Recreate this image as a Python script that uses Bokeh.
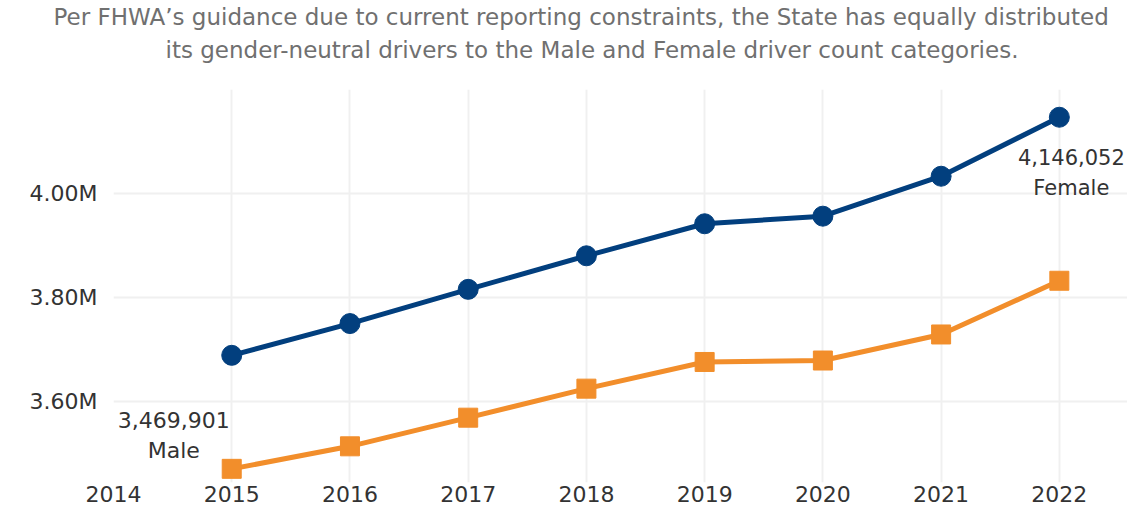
from bokeh.plotting import figure
from bokeh.models import Range1d, FixedTicker, Title
from bokeh.core.properties import value
from bokeh.embed import file_html
from bokeh.resources import INLINE

# ---- data ----
years = [2015, 2016, 2017, 2018, 2019, 2020, 2021, 2022]
female = [3688200, 3749300, 3815100, 3879600, 3941200, 3955800, 4032600, 4146052]
male = [3469901, 3513200, 3568300, 3624100, 3675400, 3678200, 3728300, 3831600]
axis_years = [2014, 2015, 2016, 2017, 2018, 2019, 2020, 2021, 2022, 2023]
y_ticks = [3600000, 3800000, 4000000]
y_tick_labels = ["3.60M", "3.80M", "4.00M"]
series_names = ["Female", "Male"]
title_lines = [
    "Per FHWA\u2019s guidance due to current reporting constraints, the State has equally distributed",
    "its gender-neutral drivers to the Male and Female driver count categories.",
]

# ---- style ----
BLUE = "#023f7e"
ORANGE = "#f28e2b"
FONT = "DejaVu Sans"
DARK = "#333333"
GRID = "#f0f0f0"
TITLE_COLOR = "#707070"

W, H = 1127, 512
LEFT, TOP, BOTTOM = 113, 89, 30
PX_PER_M = 520.0
frame_h = H - TOP - BOTTOM
y_top = 4199400
y_bot = y_top - frame_h / PX_PER_M * 1e6
x_end = 2014 + (W - LEFT) / 118.23

p = figure(
    width=W, height=H,
    x_range=Range1d(2014, x_end),
    y_range=Range1d(y_bot, y_top),
    output_backend="svg", toolbar_location=None,
    min_border_left=LEFT, min_border_right=0,
    min_border_top=TOP, min_border_bottom=BOTTOM,
)
p.outline_line_color = None
p.background_fill_color = "white"
p.border_fill_color = "white"

# grid
p.xgrid.ticker = FixedTicker(ticks=axis_years)
p.ygrid.ticker = FixedTicker(ticks=y_ticks)
p.xgrid.grid_line_color = GRID
p.ygrid.grid_line_color = GRID
p.xgrid.grid_line_width = 2
p.ygrid.grid_line_width = 2

# axes
for ax in (p.xaxis[0], p.yaxis[0]):
    ax.axis_line_color = None
    ax.major_tick_line_color = None
    ax.minor_tick_line_color = None
    ax.major_tick_out = 0
    ax.major_tick_in = 0
    ax.major_label_text_font = FONT
    ax.major_label_text_font_size = "22px"
    ax.major_label_text_color = DARK

ya = p.yaxis[0]
ya.ticker = FixedTicker(ticks=y_ticks)
ya.major_label_overrides = dict(zip(y_ticks, y_tick_labels))
ya.major_label_standoff = 16

xa = p.xaxis[0]
xa.ticker = FixedTicker(ticks=axis_years)
xa.major_label_overrides = {y: str(y) for y in axis_years}
xa.major_label_standoff = 3

# series
p.line(years, male, line_color=ORANGE, line_width=5, line_join="round")
p.scatter(years, male, marker="square", size=19, fill_color=ORANGE, line_color=ORANGE)
p.line(years, female, line_color=BLUE, line_width=5, line_join="round")
p.scatter(years, female, marker="circle", size=20, fill_color=BLUE, line_color=BLUE)

# end labels
txt = dict(text_baseline="alphabetic", text_font=value(FONT), text_color=DARK)
p.text(x=[years[0]], y=[male[0]], text=[f"{male[0]:,}"], x_offset=-58, y_offset=-49,
       text_align="center", text_font_size="22px", **txt)
p.text(x=[years[0]], y=[male[0]], text=[series_names[1]], x_offset=-58, y_offset=-18,
       text_align="center", text_font_size="22px", **txt)
p.text(x=[years[-1]], y=[female[-1]], text=[f"{female[-1]:,}"], x_offset=12, y_offset=40,
       text_align="center", text_font_size="21px", **txt)
p.text(x=[years[-1]], y=[female[-1]], text=[series_names[0]], x_offset=12, y_offset=71,
       text_align="center", text_font_size="21px", **txt)

# title: two lines (second line is nearest the plot)
p.add_layout(Title(text=title_lines[1], align="left", offset=52, vertical_align="bottom",
                   standoff=54, text_font=FONT, text_font_size="23px",
                   text_font_style="normal", text_color=TITLE_COLOR), "above")
p.add_layout(Title(text=title_lines[0], align="left", offset=-60, vertical_align="bottom",
                   standoff=-45, text_font=FONT, text_font_size="23px",
                   text_font_style="normal", text_color=TITLE_COLOR), "above")

open("out.html", "w").write(file_html(p, INLINE))
